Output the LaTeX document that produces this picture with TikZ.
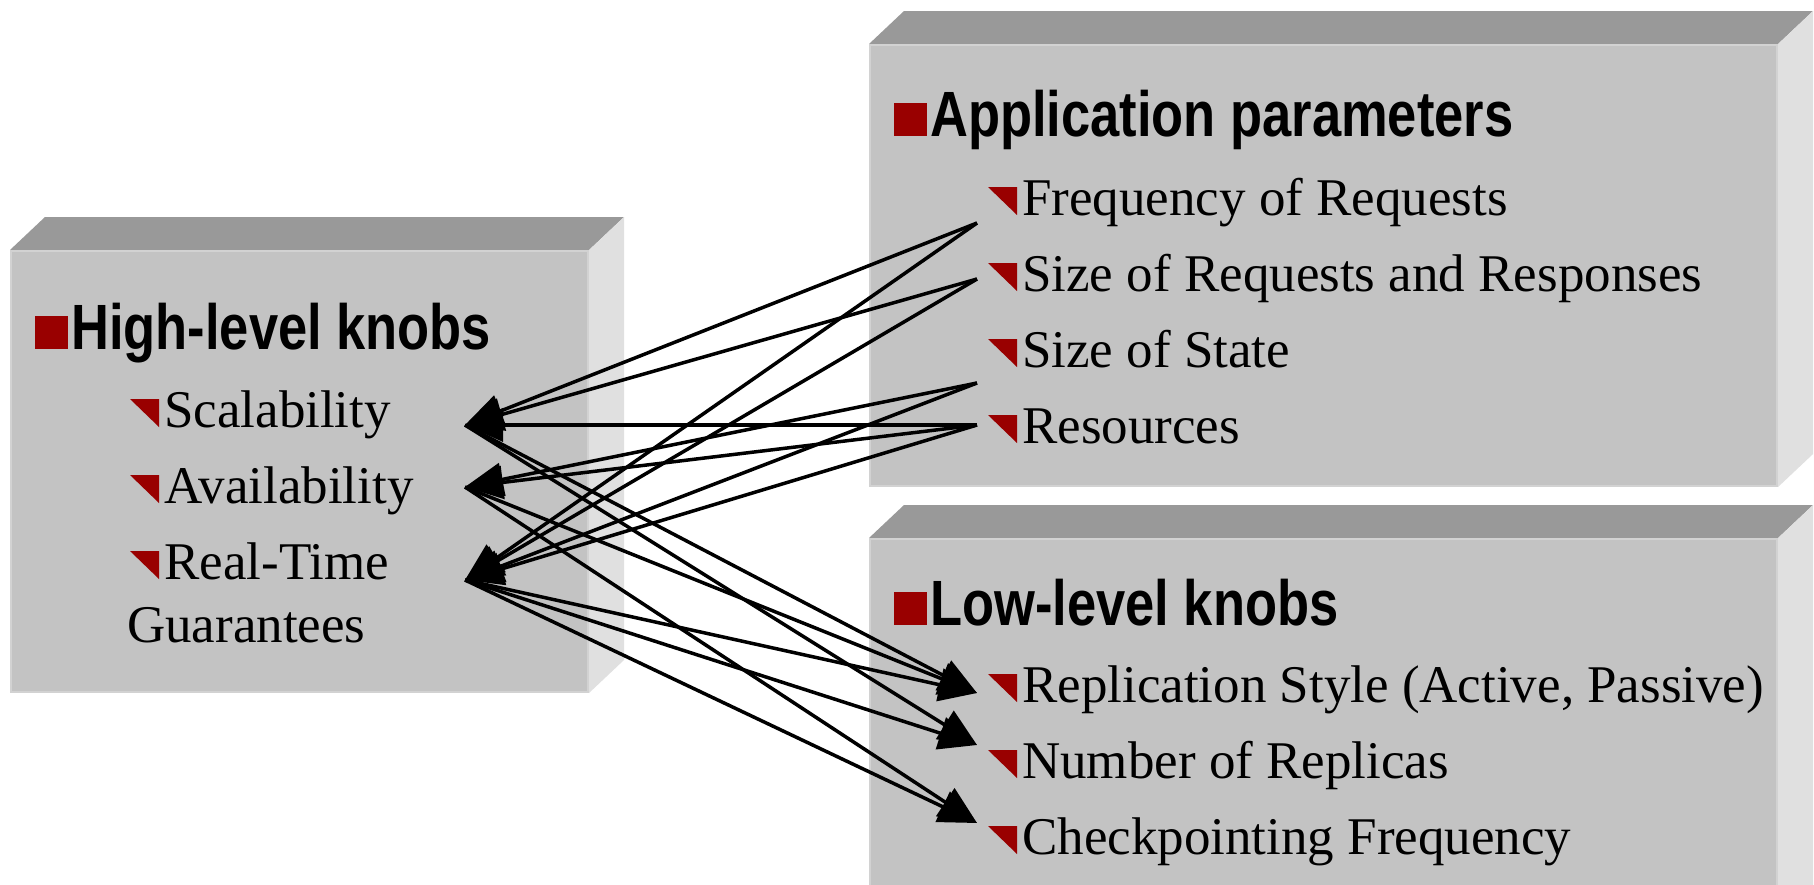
\documentclass[tikz,border=0pt]{standalone}
\usepackage{fontspec}
\setmainfont{Liberation Serif}
\newfontfamily\headfont{Liberation Sans}
\usetikzlibrary{arrows.meta}

\definecolor{facefront}{RGB}{195,195,195}
\definecolor{facetop}{RGB}{153,153,153}
\definecolor{faceside}{RGB}{224,224,224}
\definecolor{faceedge}{RGB}{210,210,210}
\definecolor{bulletred}{RGB}{153,0,0}

% a raised slab: front face (#1,#2)-(#3,#4), top and right faces behind it
\newcommand\drawslab[4]{%
  \fill[facetop] (#1,#2) -- (#1+35,#2-33) -- (#3+35,#2-33) -- (#3,#2) -- cycle;
  \fill[faceside] (#3,#2) -- (#3+35,#2-33) -- (#3+35,#4-33) -- (#3,#4) -- cycle;
  \fill[facefront] (#1,#2) rectangle (#3,#4);
  \draw[faceedge, line width=2.5pt] (#1+1,#4-1) -- (#1+1,#2+1) -- (#3-1,#2+1) -- (#3-1,#4-1) -- cycle;
}
% square bullet before a heading, triangle bullet before an item
\newcommand\headmark[1]{\fill[bulletred] ([xshift=-36pt]#1.base west) rectangle +(33,-33);}
\newcommand\itemmark[1]{\fill[bulletred] ([xshift=-34pt,yshift=28pt]#1.base west) -- ([xshift=-5pt,yshift=28pt]#1.base west) -- ([xshift=-5pt]#1.base west) -- cycle;}

\tikzset{
  item/.style={anchor=base west, inner sep=0pt, font=\fontsize{53}{63}\selectfont},
  head/.style={anchor=base west, inner sep=0pt, font=\headfont\bfseries\fontsize{64}{70}\selectfont},
  link/.style={line width=3.5pt, -{Triangle[length=38pt,width=33pt]}},
}

\begin{document}
\begin{tikzpicture}[x=1pt,y=-1pt]
\useasboundingbox (0,0) rectangle (1814,884);
\fill[white] (0,0) rectangle (1814,884);

\begin{scope}
  \clip (0,0) rectangle (1814,884);
  \drawslab{10}{250}{589}{693}
  \drawslab{869}{44}{1778}{487}
  \drawslab{869}{538}{1778}{940}
\end{scope}

% high-level knobs
\node[head] (hk) at (71,349) {\scalebox{0.82}[1]{High-level knobs}};
\node[item] (scal) at (164,427) {Scalability};
\node[item] (avail) at (164,503) {Availability};
\node[item] (rt) at (164,579) {Real-Time};
\node[item] (rt2) at (127,642) {Guarantees};

% application parameters
\node[head] (app) at (930,136) {\scalebox{0.82}[1]{Application parameters}};
\node[item] (freq) at (1022,215) {Frequency of Requests};
\node[item] (size) at (1022,291) {Size of Requests and Responses};
\node[item] (state) at (1022,367) {Size of State};
\node[item] (res) at (1022,443) {Resources};

% low-level knobs
\node[head] (low) at (930,625) {\scalebox{0.82}[1]{Low-level knobs}};
\node[item] (repl) at (1022,702) {Replication Style (Active, Passive)};
\node[item] (num) at (1022,778) {Number of Replicas};
\node[item] (ckpt) at (1022,854) {Checkpointing Frequency};

\headmark{hk}\headmark{app}\headmark{low}
\foreach \n in {scal,avail,rt,freq,size,state,res,repl,num,ckpt}{\itemmark{\n}}

% connector ends
\coordinate (scal-p) at (465,425);
\coordinate (avail-p) at (465,487);
\coordinate (rt-p) at (465,580);
\coordinate (freq-p) at (977,223);
\coordinate (size-p) at (977,279);
\coordinate (state-p) at (977,383);
\coordinate (res-p) at (977,425);
\coordinate (repl-p) at (977,693);
\coordinate (num-p) at (977,745);
\coordinate (ckpt-p) at (977,823);

\foreach \s/\t in {freq/scal, freq/rt, size/scal, size/rt, state/avail, state/rt,
                   res/scal, res/avail, res/rt,
                   scal/repl, scal/num, avail/repl, avail/ckpt,
                   rt/repl, rt/num, rt/ckpt}
  {\draw[link] (\s-p) -- (\t-p);}
\end{tikzpicture}
\end{document}
